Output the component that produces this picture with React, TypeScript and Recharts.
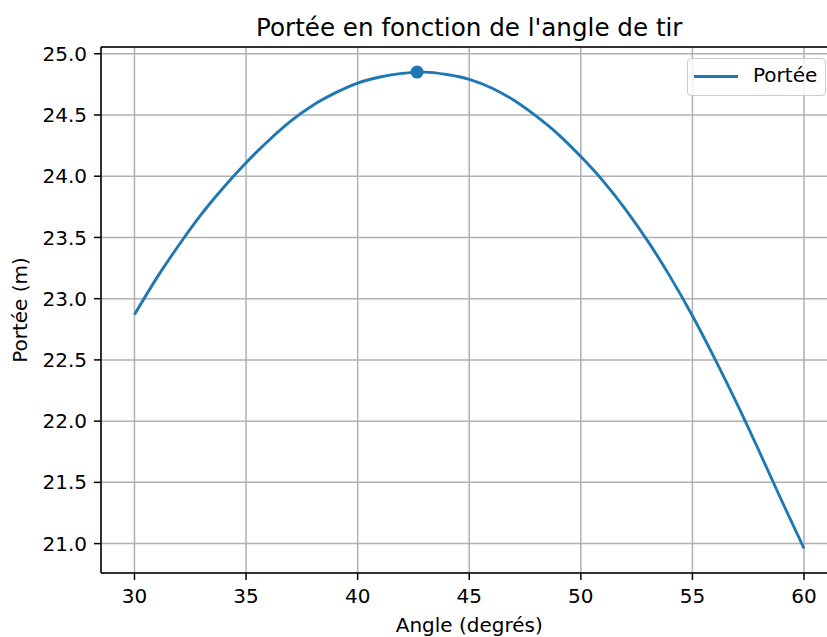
import React from "react";
import {
  LineChart,
  Line,
  XAxis,
  YAxis,
  CartesianGrid,
  Legend,
  ReferenceDot,
  ReferenceLine,
  Label,
} from "recharts";

const angles = [
  30, 31, 32, 33, 34, 35, 36, 37, 38, 39, 40, 41, 42, 43, 44, 45, 46, 47, 48, 49,
  50, 51, 52, 53, 54, 55, 56, 57, 58, 59, 60,
];
const ranges = [
  22.87, 23.17, 23.44, 23.69, 23.91, 24.11, 24.29, 24.45, 24.58, 24.68, 24.76,
  24.81, 24.84, 24.85, 24.83, 24.79, 24.72, 24.62, 24.49, 24.34, 24.16, 23.96,
  23.73, 23.47, 23.18, 22.86, 22.51, 22.14, 21.75, 21.35, 20.96,
];
const peakAngle = 42.66;
const peakRange = 24.85;

const xTicks = [30, 35, 40, 45, 50, 55, 60];
const yTicks = [21, 21.5, 22, 22.5, 23, 23.5, 24, 24.5, 25];
const xDomain = [28.5, 61.5];
const yDomain = [20.76, 25.055];

const BLUE = "#1f77b4";
const FONT = "'DejaVu Sans', sans-serif";
const FS = 20;

const data = angles.map((a, i) => ({ angle: a, portee: ranges[i] }));

function LegendBox() {
  return (
    <div
      style={{
        width: 139,
        height: 38,
        boxSizing: "border-box",
        border: "1.5px solid #cccccc",
        borderRadius: 4,
        background: "rgba(255,255,255,0.8)",
        position: "relative",
        fontFamily: FONT,
      }}
    >
      <svg width={52} height={38} style={{ position: "absolute", left: 0, top: 0 }}>
        <line x1={6} y1={17.5} x2={50} y2={17.5} stroke={BLUE} strokeWidth={2.9} />
      </svg>
      <span
        style={{
          position: "absolute",
          left: 65,
          top: 4,
          fontSize: FS,
          lineHeight: "24px",
          color: "#000",
        }}
      >
        Portée
      </span>
    </div>
  );
}

export default function App() {
  return (
    <div
      style={{
        position: "absolute",
        left: 0,
        top: 0,
        width: 827,
        height: 637,
        overflow: "hidden",
        background: "#fff",
        fontFamily: FONT,
      }}
    >
      <div
        style={{
          position: "absolute",
          left: 101,
          top: 15,
          width: 736.5,
          textAlign: "center",
          fontSize: 24.6,
          lineHeight: "25px",
          color: "#000",
          zIndex: 2,
        }}
      >
        Portée en fonction de l'angle de tir
      </div>
      <LineChart
        width={840}
        height={637}
        data={data}
        margin={{ top: 47, right: 2.5, bottom: 0, left: 0 }}
      >
        <CartesianGrid stroke="#b0b0b0" strokeWidth={1.5} />
        <XAxis
          dataKey="angle"
          type="number"
          domain={xDomain}
          ticks={xTicks}
          interval={0}
          allowDataOverflow
          height={64}
          tickSize={7}
          tickMargin={9}
          tick={{ fill: "#000", fontSize: FS }}
          tickLine={{ stroke: "#000", strokeWidth: 1.5 }}
          axisLine={{ stroke: "#000", strokeWidth: 1.5 }}
        >
          <Label
            value="Angle (degrés)"
            position="insideBottom"
            offset={5}
            style={{ fill: "#000", fontSize: FS }}
          />
        </XAxis>
        <YAxis
          type="number"
          domain={yDomain}
          ticks={yTicks}
          interval={0}
          allowDataOverflow
          width={101}
          tickSize={7}
          tickMargin={7}
          tickFormatter={(v) => Number(v).toFixed(1)}
          tick={{ fill: "#000", fontSize: FS }}
          tickLine={{ stroke: "#000", strokeWidth: 1.5 }}
          axisLine={{ stroke: "#000", strokeWidth: 1.5 }}
        >
          <Label
            value="Portée (m)"
            angle={-90}
            position="insideLeft"
            offset={20}
            style={{ fill: "#000", fontSize: FS, textAnchor: "middle" }}
          />
        </YAxis>
        <ReferenceLine y={yDomain[1]} stroke="#000" strokeWidth={1.5} />
        <Line
          type="monotone"
          dataKey="portee"
          name="Portée"
          stroke={BLUE}
          strokeWidth={2.9}
          dot={false}
          isAnimationActive={false}
        />
        <ReferenceDot x={peakAngle} y={peakRange} r={6.5} fill={BLUE} stroke="none" />
        <Legend
          layout="horizontal"
          align="center"
          verticalAlign="middle"
          content={() => <LegendBox />}
          wrapperStyle={{ left: 687, top: 58, width: "auto", height: "auto" }}
        />
      </LineChart>
    </div>
  );
}
